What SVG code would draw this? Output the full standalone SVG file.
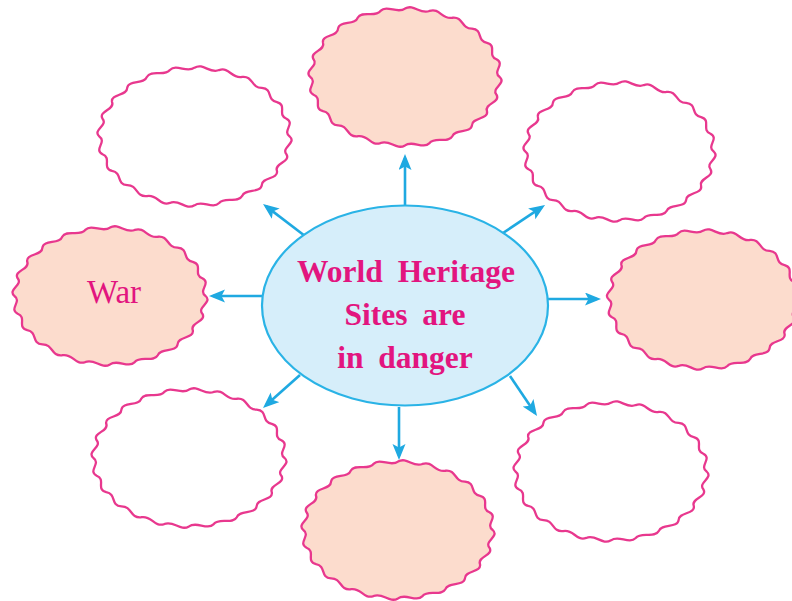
<svg xmlns="http://www.w3.org/2000/svg" xmlns:xlink="http://www.w3.org/1999/xlink" width="792" height="601" viewBox="0 0 792 601">
<style>
.wave{stroke:#e8388e;stroke-width:2.3;stroke-linejoin:round}
.peach{fill:#fcdccd}
.white{fill:#ffffff}
.conn{stroke:#1fa9e1;stroke-width:2.6;fill:none;marker-end:url(#ah)}
.ctext{font-family:"Liberation Serif","Times New Roman",serif;font-weight:bold;font-size:31.5px;fill:#e2157f;text-anchor:middle;word-spacing:7px}
.ltext{font-family:"Liberation Serif","Times New Roman",serif;font-size:33px;fill:#e2157f;text-anchor:middle}
</style>
<defs>
<marker id="ah" markerUnits="userSpaceOnUse" markerWidth="17" markerHeight="14" refX="12" refY="6.5" orient="auto">
<path d="M0,0 L16,6.5 L0,13 L3.5,6.5 Z" fill="#1fa9e1"/>
</marker>
<path id="wave" vector-effect="non-scaling-stroke" d="M100,0 C107.59,9.41 90.6,15.98 96.59,25.88 C101.49,36.94 83.38,38.88 86.6,50 C88.47,61.95 70.48,59.14 70.71,70.71 C69.42,82.73 52.77,75.36 50,86.6 C45.64,97.88 31.47,86.45 25.88,96.59 C18.75,106.36 8.02,91.65 0,100 C-9.41,107.59 -15.98,90.6 -25.88,96.59 C-36.94,101.49 -38.88,83.38 -50,86.6 C-61.95,88.47 -59.14,70.48 -70.71,70.71 C-82.73,69.42 -75.36,52.77 -86.6,50 C-97.88,45.64 -86.45,31.47 -96.59,25.88 C-106.36,18.75 -91.65,8.02 -100,0 C-107.59,-9.41 -90.6,-15.98 -96.59,-25.88 C-101.49,-36.94 -83.38,-38.88 -86.6,-50 C-88.47,-61.95 -70.48,-59.14 -70.71,-70.71 C-69.42,-82.73 -52.77,-75.36 -50,-86.6 C-45.64,-97.88 -31.47,-86.45 -25.88,-96.59 C-18.75,-106.36 -8.02,-91.65 0,-100 C9.41,-107.59 15.98,-90.6 25.88,-96.59 C36.94,-101.49 38.88,-83.38 50,-86.6 C61.95,-88.47 59.14,-70.48 70.71,-70.71 C82.73,-69.42 75.36,-52.77 86.6,-50 C97.88,-45.64 86.45,-31.47 96.59,-25.88 C106.36,-18.75 91.65,-8.02 100,0 Z"/>
</defs>
<rect width="792" height="601" fill="#ffffff"/>
<g id="connectors">
<line class="conn" x1="405" y1="205" x2="405" y2="158"/>
<line class="conn" x1="305" y1="236" x2="266.2" y2="206.4"/>
<line class="conn" x1="503" y1="233" x2="541.7" y2="207.2"/>
<line class="conn" x1="548" y1="299" x2="597" y2="299"/>
<line class="conn" x1="262" y1="296" x2="213" y2="296"/>
<line class="conn" x1="300" y1="375" x2="266" y2="405.3"/>
<line class="conn" x1="399" y1="407" x2="399" y2="456"/>
<line class="conn" x1="510" y1="376" x2="534.8" y2="412.7"/>
</g>
<g id="center">
<ellipse cx="405" cy="305.5" rx="143" ry="100" fill="#d6eefa" stroke="#2ab3e6" stroke-width="2.2"/>
<text class="ctext" x="406" y="282">World Heritage</text>
<text class="ctext" x="405" y="325">Sites are</text>
<text class="ctext" x="405" y="368">in danger</text>
</g>
<g id="node-top">
<use xlink:href="#wave" class="wave peach" transform="translate(405,77) scale(0.947,0.684)"/>
</g>
<g id="node-top-left">
<use xlink:href="#wave" class="wave white" transform="translate(194.5,136.5) scale(0.952,0.688)"/>
</g>
<g id="node-top-right">
<use xlink:href="#wave" class="wave white" transform="translate(619.5,151.5) scale(0.942,0.688)"/>
</g>
<g id="node-war">
<use xlink:href="#wave" class="wave peach" transform="translate(110,296) scale(0.956,0.684)"/>
<text class="ltext" x="114" y="303">War</text>
</g>
<g id="node-right">
<use xlink:href="#wave" class="wave peach" transform="translate(703,299.5) scale(0.942,0.688)"/>
</g>
<g id="node-bottom-left">
<use xlink:href="#wave" class="wave white" transform="translate(189,458) scale(0.956,0.684)"/>
</g>
<g id="node-bottom">
<use xlink:href="#wave" class="wave peach" transform="translate(398,530) scale(0.947,0.684)"/>
</g>
<g id="node-bottom-right">
<use xlink:href="#wave" class="wave white" transform="translate(611,471.5) scale(0.956,0.688)"/>
</g>
</svg>
